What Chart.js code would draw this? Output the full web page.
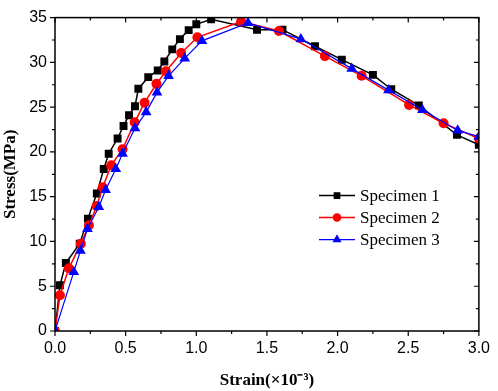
<!DOCTYPE html>
<html><head><meta charset="utf-8">
<script src="https://cdn.jsdelivr.net/npm/chart.js@4"></script>
<style>html,body{margin:0;padding:0;background:#fff}canvas{display:block}</style>
</head><body>
<canvas id="c" width="498" height="391"></canvas>
<script>
// ---- data ----
const seriesLabels = ['Specimen 1', 'Specimen 2', 'Specimen 3'];

const s1Strain = [0, 0.035, 0.077, 0.175, 0.233, 0.296, 0.345, 0.38, 0.443, 0.485, 0.524, 0.566, 0.59, 0.66, 0.727, 0.774, 0.83, 0.884, 0.946, 1.0, 1.105, 1.43, 1.61, 1.84, 2.03, 2.25, 2.38, 2.575, 2.845, 3.0];
const s1Stress = [0, 5.1, 7.6, 9.75, 12.55, 15.35, 18.1, 19.8, 21.5, 22.9, 24.1, 25.1, 27.05, 28.35, 29.1, 30.1, 31.45, 32.6, 33.6, 34.25, 34.8, 33.65, 33.65, 31.8, 30.3, 28.6, 27.0, 25.2, 21.9, 20.8];

const s2Strain = [0, 0.035, 0.098, 0.183, 0.24, 0.295, 0.338, 0.398, 0.478, 0.564, 0.634, 0.718, 0.785, 0.893, 1.008, 1.317, 1.585, 1.91, 2.17, 2.506, 2.75, 3.0];
const s2Stress = [0, 4.0, 7.0, 9.75, 11.8, 13.95, 16.05, 18.5, 20.3, 23.3, 25.5, 27.6, 29.0, 31.05, 32.8, 34.55, 33.5, 30.7, 28.5, 25.25, 23.2, 21.5];

const s3Strain = [0, 0.133, 0.18, 0.23, 0.31, 0.358, 0.43, 0.478, 0.566, 0.645, 0.722, 0.804, 0.918, 1.04, 1.366, 1.74, 2.1, 2.36, 2.6, 2.85, 3.0];
const s3Stress = [0, 6.6, 8.96, 11.4, 13.85, 15.75, 18.1, 19.8, 22.65, 24.45, 26.65, 28.5, 30.45, 32.4, 34.4, 32.6, 29.3, 26.9, 24.7, 22.4, 21.7];

const xTickValues = [0, 0.5, 1.0, 1.5, 2.0, 2.5, 3.0];
const yTickValues = [0, 5, 10, 15, 20, 25, 30, 35];

const xTitle = 'Strain(×10⁻³)';
const yTitle = 'Stress(MPa)';

// ---- build ----
const zip = (xs, ys) => xs.map((x, i) => ({ x: x, y: ys[i] }));
const colors = ['#000000', '#ff0000', '#0000ff'];
const styles = ['rect', 'circle', 'triangle'];
const radii = [5.6, 5, 6.2];
const widths = [1.5, 1.5, 1.2];
const allData = [zip(s1Strain, s1Stress), zip(s2Strain, s2Stress), zip(s3Strain, s3Stress)];

const datasets = allData.map((d, i) => ({
  label: seriesLabels[i],
  data: d,
  showLine: true,
  tension: 0,
  borderColor: colors[i],
  backgroundColor: colors[i],
  borderWidth: widths[i],
  pointStyle: styles[i],
  pointRadius: radii[i],
  pointHoverRadius: radii[i],
  pointBorderWidth: 0,
  pointBackgroundColor: colors[i],
  clip: 0,
  order: 3 - i
}));

function drawMarker(ctx, style, x, y, r, color) {
  ctx.save();
  ctx.fillStyle = color;
  ctx.beginPath();
  if (style === 'rect') {
    const s = Math.SQRT1_2 * r;
    ctx.rect(x - s, y - s, 2 * s, 2 * s);
  } else if (style === 'circle') {
    ctx.arc(x, y, r, 0, Math.PI * 2);
  } else {
    const w = r * Math.sqrt(3) / 2;
    ctx.moveTo(x, y - r);
    ctx.lineTo(x + w, y + r / 2);
    ctx.lineTo(x - w, y + r / 2);
    ctx.closePath();
  }
  ctx.fill();
  ctx.restore();
}

const framePlugin = {
  id: 'frameTicks',
  afterDraw(chart) {
    const ctx = chart.ctx, a = chart.chartArea;
    const xs = chart.scales.x, ys = chart.scales.y;
    ctx.save();
    ctx.strokeStyle = '#000';
    ctx.lineWidth = 1.5;
    ctx.strokeRect(a.left, a.top, a.right - a.left, a.bottom - a.top);
    ctx.lineWidth = 1.2;
    const major = 5, minor = 3;
    ctx.beginPath();
    for (let i = 0; i < xTickValues.length; i++) {
      const v = xTickValues[i];
      const px = xs.getPixelForValue(v);
      ctx.moveTo(px, a.bottom); ctx.lineTo(px, a.bottom + major);
      ctx.moveTo(px, a.top); ctx.lineTo(px, a.top + major);
      if (i < xTickValues.length - 1) {
        const m = xs.getPixelForValue((v + xTickValues[i + 1]) / 2);
        ctx.moveTo(m, a.bottom); ctx.lineTo(m, a.bottom + minor);
        ctx.moveTo(m, a.top); ctx.lineTo(m, a.top + minor);
      }
    }
    for (let i = 0; i < yTickValues.length; i++) {
      const v = yTickValues[i];
      const py = ys.getPixelForValue(v);
      ctx.moveTo(a.left, py); ctx.lineTo(a.left - major, py);
      ctx.moveTo(a.right, py); ctx.lineTo(a.right - major, py);
      if (i < yTickValues.length - 1) {
        const m = ys.getPixelForValue((v + yTickValues[i + 1]) / 2);
        ctx.moveTo(a.left, m); ctx.lineTo(a.left - minor, m);
        ctx.moveTo(a.right, m); ctx.lineTo(a.right - minor, m);
      }
    }
    ctx.stroke();

    // legend
    const lx0 = a.left + 264, lx1 = a.left + 300, tx = a.left + 305;
    const rows = [a.top + 178, a.top + 200, a.top + 222];
    ctx.font = '17px "Liberation Serif", "Times New Roman", serif';
    ctx.textBaseline = 'middle';
    ctx.textAlign = 'left';
    chart.data.datasets.forEach((ds, i) => {
      const y = rows[i];
      ctx.strokeStyle = ds.borderColor;
      ctx.lineWidth = ds.borderWidth;
      ctx.beginPath(); ctx.moveTo(lx0, y); ctx.lineTo(lx1, y); ctx.stroke();
      drawMarker(ctx, ds.pointStyle, (lx0 + lx1) / 2, y, ds.pointRadius * 0.85, ds.borderColor);
      ctx.fillStyle = '#000';
      ctx.fillText(ds.label, tx, y + 1);
    });
    ctx.restore();
  }
};

const tickFont = { family: '"Liberation Sans", Arial, sans-serif', size: 16 };
const titleFont = { family: '"Liberation Serif", "Times New Roman", serif', size: 17, weight: 'bold' };

new Chart(document.getElementById('c'), {
  type: 'scatter',
  data: { datasets: datasets },
  options: {
    responsive: false,
    animation: false,
    devicePixelRatio: 1,
    layout: { padding: { top: 13, right: 14, left: 0, bottom: 0 } },
    plugins: { legend: { display: false }, tooltip: { enabled: false } },
    scales: {
      x: {
        type: 'linear', min: 0, max: 3,
        afterBuildTicks: s => { s.ticks = xTickValues.map(v => ({ value: v })); },
        afterFit: s => { s.height = 60; },
        ticks: { color: '#000', font: tickFont, padding: 8, maxRotation: 0, callback: v => v.toFixed(1) },
        grid: { display: false, drawTicks: false },
        border: { display: false },
        title: { display: true, text: xTitle, color: '#000', font: titleFont, padding: { top: 3, bottom: 0 } }
      },
      y: {
        type: 'linear', min: 0, max: 35,
        afterBuildTicks: s => { s.ticks = yTickValues.map(v => ({ value: v })); },
        afterFit: s => { s.width = 55; },
        ticks: { color: '#000', font: tickFont, padding: 8, callback: v => String(v) },
        grid: { display: false, drawTicks: false },
        border: { display: false },
        title: { display: true, text: yTitle, color: '#000', font: titleFont, padding: { top: 0, bottom: 1 } }
      }
    }
  },
  plugins: [framePlugin]
});
</script>
</body></html>
